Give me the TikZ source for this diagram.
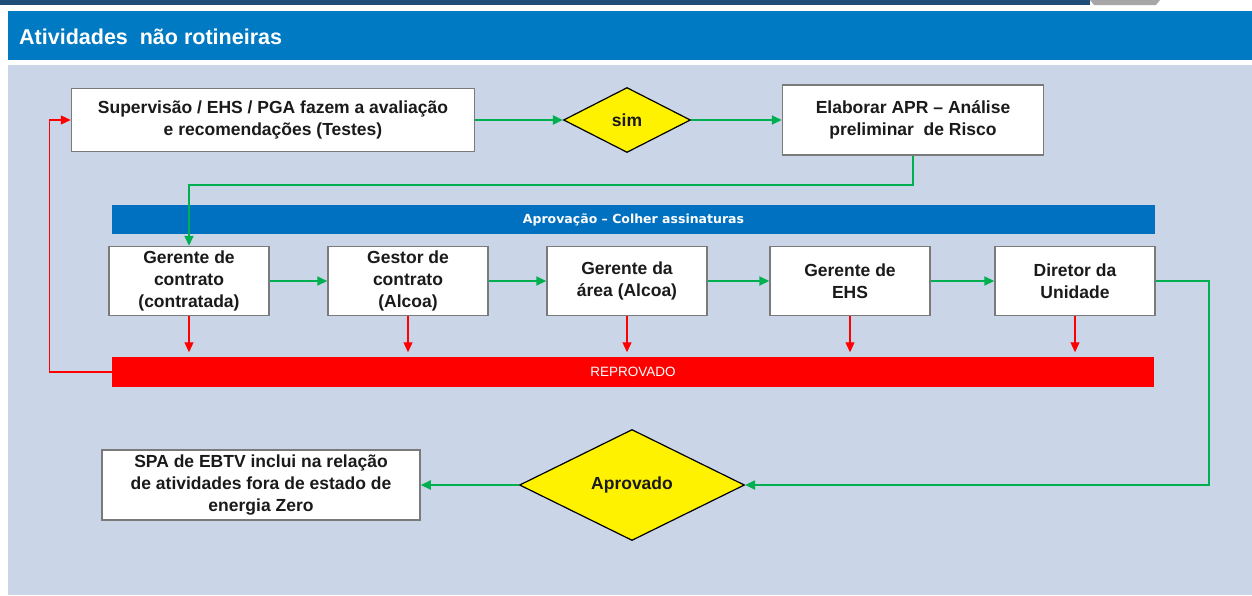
\documentclass[tikz,border=0pt]{standalone}
\usepackage{fontspec}
\setmainfont{Liberation Sans}
\newfontfamily\barfont{DejaVu Sans}
\usetikzlibrary{arrows.meta,shapes.geometric}
\definecolor{panelbg}{HTML}{CAD5E8}
\definecolor{headblue}{HTML}{007AC2}
\definecolor{barblue}{HTML}{0070C0}
\definecolor{navy}{HTML}{1F4E79}
\definecolor{flowgreen}{HTML}{00B050}
\definecolor{boxline}{HTML}{7A7A7A}
\definecolor{txt}{HTML}{1A1A1A}
\tikzset{
  procbox/.style={draw=boxline, line width=1.5pt, fill=white, align=center,
    inner sep=0pt, text=txt, font=\fontsize{17.5}{22}\selectfont\bfseries},
  decision/.style={diamond, draw=black, line width=1.2pt, fill=yellow, inner sep=0pt,
    aspect=2, text=txt, font=\fontsize{17.5}{22}\selectfont\bfseries},
  bandbar/.style={inner sep=0pt, text=white, font=\barfont\fontsize{12.5}{14}\selectfont\bfseries},
  goarrow/.style={draw=flowgreen, line width=2pt, -{Triangle[length=10pt,width=9pt]}},
  noarrow/.style={draw=red, line width=1.2pt, -{Triangle[length=10pt,width=9pt]}},
}
\begin{document}
\begin{tikzpicture}[x=1pt,y=-1pt]
\useasboundingbox (0,0) rectangle (1252,595);
\fill[white] (0,0) rectangle (1252,595);
% top strip
\fill[navy] (0,0) rectangle (1090,5);
\fill[gray!70] (1090,0) -- (1160,0) -- (1156,5) -- (1094,5) -- cycle;
% header
\fill[headblue] (8,11) rectangle (1252,60);
\node[anchor=west, text=white, font=\fontsize{21.5}{25}\selectfont\bfseries, inner sep=0pt] (title) at (19,37) {Atividades\ \ não rotineiras};
% panel
\fill[panelbg] (8,65) rectangle (1252,595);

% top row
\node[procbox, minimum width=403pt, minimum height=63pt] (sup) at (273,120)
  {Supervisão / EHS / PGA fazem a avaliação\\e recomendações (Testes)};
\node[decision, minimum width=127pt, minimum height=65pt] (sim) at (627,120) {sim};
\node[procbox, minimum width=261pt, minimum height=70pt] (apr) at (913,120)
  {Elaborar APR – Análise\\preliminar\ \ de Risco};

% approval band
\node[bandbar, fill=barblue, minimum width=1043pt, minimum height=29pt] (band) at (633.5,219.5)
  {Aprovação – Colher assinaturas};

% signatures row
\node[procbox, minimum width=160pt, minimum height=69pt] (gc) at (189,281)
  {Gerente de\\contrato\\(contratada)};
\node[procbox, minimum width=160pt, minimum height=69pt] (gs) at (408,281)
  {Gestor de\\contrato\\(Alcoa)};
\node[procbox, minimum width=160pt, minimum height=69pt] (ga) at (627,281)
  {Gerente da\\área (Alcoa)};
\node[procbox, minimum width=160pt, minimum height=69pt] (ge) at (850,281)
  {Gerente de\\EHS};
\node[procbox, minimum width=160pt, minimum height=69pt] (dir) at (1075,281)
  {Diretor da\\Unidade};

% rejected band
\node[bandbar, fill=red, font=\fontsize{13.5}{15}\selectfont, minimum width=1042pt, minimum height=30pt] (rep) at (633,372)
  {REPROVADO};

% bottom row
\node[decision, minimum width=225pt, minimum height=111pt] (aprov) at (632,485) {Aprovado};
\node[procbox, minimum width=318pt, minimum height=70pt] (spa) at (261,485)
  {SPA de EBTV inclui na relação\\de atividades fora de estado de\\energia Zero};

% connectors
\draw[goarrow] (sup.east) -- (sim.west);
\draw[goarrow] (sim.east) -- (apr.west);
\draw[goarrow] (apr.south) -- ++(0,29) -| (gc.north);
\draw[goarrow] (gc.east) -- (gs.west);
\draw[goarrow] (gs.east) -- (ga.west);
\draw[goarrow] (ga.east) -- (ge.west);
\draw[goarrow] (ge.east) -- (dir.west);
\draw[goarrow] (dir.east) -- ++(53,0) |- (aprov.east);
\draw[goarrow] (aprov.west) -- (spa.east);

\foreach \b in {gc,gs,ga,ge,dir}{
  \draw[noarrow] (\b.south) -- ++(0,36);
}
\draw[noarrow] (rep.west) -- ++(-62,0) |- (sup.west);
\end{tikzpicture}
\end{document}
